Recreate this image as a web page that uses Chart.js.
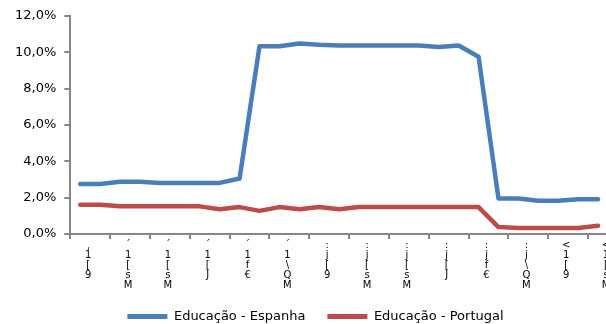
<!DOCTYPE html>
<html>
<head>
<meta charset="utf-8">
<script src="https://cdn.jsdelivr.net/npm/chart.js@4/dist/chart.umd.min.js"></script>
<style>
  html, body { margin: 0; padding: 0; background: #fff; overflow: hidden; }
  #wrap { width: 606px; height: 324px; overflow: hidden; }
  canvas { display: block; }
</style>
</head>
<body>
<div id="wrap"><canvas id="c" width="628" height="336"></canvas></div>
<script>
// Stacked (one glyph per line) labels, one for every second period
const tickLabels = [
  ["ˌ", "1", "[", "9"],
  ["ˊ", "1", "[", "s", "M"],
  ["ˊ", "1", "[", "s", "M"],
  ["ˊ", "1", "[", "J"],
  ["ˊ", "1", "f", "€"],
  ["ˊ", "1", "\\", "Q", "M"],
  [":", "j", "[", "9"],
  [":", "j", "[", "s", "M"],
  [":", "j", "[", "s", "M"],
  [":", "j", "[", "J"],
  [":", "j", "f", "€"],
  [":", "j", "\\", "Q", "M"],
  ["<", "1", "[", "9"],
  ["<", "1", "[", "s", "M"]
];

// 27 periods; only every second one carries a label
const categories = Array.from({ length: 27 }, (_, i) => (i % 2 === 0 ? tickLabels[i / 2] : ""));

const espanha = [2.75, 2.75, 2.87, 2.87, 2.81, 2.81, 2.81, 2.81, 3.05,
                 10.33, 10.33, 10.48, 10.41, 10.37, 10.37, 10.37, 10.37, 10.37,
                 10.28, 10.37, 9.75, 1.95, 1.95, 1.83, 1.83, 1.91, 1.91];
const portugal = [1.61, 1.61, 1.52, 1.52, 1.52, 1.52, 1.52, 1.36, 1.48,
                  1.27, 1.48, 1.36, 1.48, 1.36, 1.48, 1.48, 1.48, 1.48,
                  1.48, 1.48, 1.48, 0.38, 0.33, 0.33, 0.33, 0.33, 0.45];

const yTicks = [0, 2, 4, 6, 8, 10, 12];

const AXIS = "#868686";
const FONT = "'DejaVu Sans', Verdana, sans-serif";

// nudges the legend block right of the plot's centre line and slightly up
const legendShift = {
  id: "legendShift",
  beforeDraw(chart) {
    const lg = chart.legend;
    if (lg) { lg.left += 8; lg.right += 8; lg.top -= 3; lg.bottom -= 3; }
  }
};

new Chart(document.getElementById("c"), {
  type: "line",
  plugins: [legendShift],
  data: {
    labels: categories,
    datasets: [
      {
        label: "Educação - Espanha",
        data: espanha,
        borderColor: "#4A7EBB",
        backgroundColor: "#4A7EBB",
        borderWidth: 4.5,
        pointRadius: 0,
        tension: 0,
        borderCapStyle: "round",
        borderJoinStyle: "round"
      },
      {
        label: "Educação - Portugal",
        data: portugal,
        borderColor: "#BE4B48",
        backgroundColor: "#BE4B48",
        borderWidth: 4.5,
        pointRadius: 0,
        tension: 0,
        borderCapStyle: "round",
        borderJoinStyle: "round"
      }
    ]
  },
  options: {
    responsive: false,
    animation: false,
    devicePixelRatio: 1,
    layout: { padding: { left: 7, right: 20, top: 12, bottom: 0 } },
    plugins: {
      legend: {
        position: "bottom",
        labels: {
          boxWidth: 40,
          boxHeight: 5,
          padding: 22,
          color: "#000",
          font: { family: FONT, size: 13 },
          generateLabels: (chart) =>
            Chart.defaults.plugins.legend.labels.generateLabels(chart).map((l) => ({ ...l, lineWidth: 0 }))
        }
      },
      tooltip: { enabled: false }
    },
    scales: {
      x: {
        offset: true,
        border: { display: true, color: AXIS, width: 2 },
        grid: {
          offset: true,
          drawOnChartArea: false,
          drawTicks: true,
          tickLength: 5,
          lineWidth: 2,
          color: (ctx) => (ctx.index !== undefined && ctx.index % 2 === 0 ? AXIS : "rgba(0,0,0,0)")
        },
        ticks: {
          autoSkip: false,
          maxRotation: 0,
          minRotation: 0,
          labelOffset: 8,
          padding: 1,
          color: "#000",
          font: { family: FONT, size: 10, lineHeight: 1.0 }
        }
      },
      y: {
        min: 0,
        max: 12,
        afterBuildTicks: (scale) => { scale.ticks = yTicks.map((v) => ({ value: v })); },
        border: { display: true, color: AXIS, width: 2 },
        grid: {
          drawOnChartArea: false,
          drawTicks: true,
          tickLength: 6,
          lineWidth: 2,
          color: AXIS
        },
        ticks: {
          padding: 8,
          color: "#000",
          font: { family: FONT, size: 13 },
          callback: (v) => v.toFixed(1).replace(".", ",") + "%"
        }
      }
    }
  }
});
</script>
</body>
</html>
